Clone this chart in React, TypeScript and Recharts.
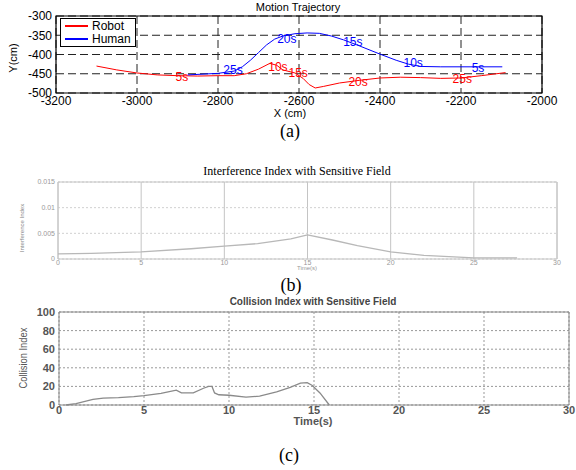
import React from "react";
import {
  LineChart,
  Line,
  XAxis,
  YAxis,
  CartesianGrid,
  ReferenceArea,
  ReferenceDot,
} from "recharts";

// (a) motion trajectory, X/Y in cm
const robotPath = [
  { x: -3100, y: -430 }, { x: -3050, y: -440 }, { x: -3000, y: -448 },
  { x: -2950, y: -453 }, { x: -2900, y: -455 }, { x: -2850, y: -456 },
  { x: -2800, y: -455 }, { x: -2760, y: -455 }, { x: -2730, y: -450 },
  { x: -2700, y: -438 }, { x: -2672, y: -423 }, { x: -2655, y: -428 },
  { x: -2640, y: -440 }, { x: -2610, y: -448 }, { x: -2590, y: -462 },
  { x: -2575, y: -478 }, { x: -2560, y: -487 }, { x: -2540, y: -483 },
  { x: -2500, y: -474 }, { x: -2450, y: -467 }, { x: -2400, y: -461 },
  { x: -2350, y: -459 }, { x: -2300, y: -460 }, { x: -2250, y: -462 },
  { x: -2200, y: -461 }, { x: -2150, y: -455 }, { x: -2090, y: -447 },
];
const humanPath = [
  { x: -2875, y: -453 }, { x: -2800, y: -449 }, { x: -2760, y: -443 },
  { x: -2740, y: -432 }, { x: -2720, y: -415 }, { x: -2700, y: -395 },
  { x: -2680, y: -375 }, { x: -2660, y: -360 }, { x: -2640, y: -352 },
  { x: -2610, y: -346 }, { x: -2580, y: -344 }, { x: -2550, y: -345 },
  { x: -2520, y: -352 }, { x: -2490, y: -362 }, { x: -2450, y: -378 },
  { x: -2400, y: -399 }, { x: -2360, y: -415 }, { x: -2330, y: -425 },
  { x: -2300, y: -431 }, { x: -2250, y: -432 }, { x: -2200, y: -432 },
  { x: -2150, y: -432 }, { x: -2098, y: -432 },
];
const robotMarks = [
  { x: -2889, y: -458, t: "5s" }, { x: -2652, y: -432, t: "10s" },
  { x: -2602, y: -448, t: "15s" }, { x: -2454, y: -471, t: "20s" },
  { x: -2197, y: -464, t: "25s" },
];
const humanMarks = [
  { x: -2158, y: -435, t: "5s" }, { x: -2318, y: -422, t: "10s" },
  { x: -2467, y: -367, t: "15s" }, { x: -2630, y: -360, t: "20s" },
  { x: -2763, y: -440, t: "25s" },
];
const xTicksA = [-3200, -3000, -2800, -2600, -2400, -2200, -2000];
const yTicksA = [-500, -450, -400, -350, -300];

// (b) interference index over time
const interference = [
  { t: 0, v: 0.001 }, { t: 2, v: 0.0011 }, { t: 5, v: 0.00137 },
  { t: 8, v: 0.002 }, { t: 10, v: 0.0025 }, { t: 12, v: 0.003 },
  { t: 14, v: 0.0039 }, { t: 15, v: 0.0047 }, { t: 16.5, v: 0.0037 },
  { t: 18, v: 0.0026 }, { t: 20, v: 0.0014 }, { t: 22, v: 0.0007 },
  { t: 25, v: 0.0002 }, { t: 27.6, v: 0.0002 },
];
const yTicksB = [0, 0.005, 0.01, 0.015];

// (c) collision index over time
const collision = [
  { t: 0.4, v: 0 }, { t: 1, v: 1.5 }, { t: 2, v: 6 }, { t: 2.6, v: 7.5 },
  { t: 3.5, v: 8 }, { t: 4.4, v: 9 }, { t: 5, v: 10 }, { t: 6, v: 12.5 },
  { t: 6.9, v: 16 }, { t: 7.2, v: 13 }, { t: 7.9, v: 13 }, { t: 8.5, v: 18 },
  { t: 8.8, v: 20 }, { t: 9, v: 20 }, { t: 9.15, v: 13 }, { t: 9.4, v: 11 },
  { t: 10, v: 10.5 }, { t: 11, v: 8.5 }, { t: 11.8, v: 9.5 }, { t: 12.8, v: 14 },
  { t: 13.6, v: 19 }, { t: 14.2, v: 23.5 }, { t: 14.6, v: 24 }, { t: 14.9, v: 21 },
  { t: 15.35, v: 13 }, { t: 15.9, v: 0 },
];
const yTicksC = [0, 20, 40, 60, 80, 100];
const timeTicks = [0, 5, 10, 15, 20, 25, 30];

const series = [
  { name: "Robot", color: "#ff0000" },
  { name: "Human", color: "#0000ff" },
];

const SANS = "'Liberation Sans', Arial, sans-serif";
const SERIF = "'Liberation Serif', 'Times New Roman', serif";

function Txt({ x, y, rotate, style, children }: any) {
  return (
    <div
      style={{
        position: "absolute",
        left: x,
        top: y,
        whiteSpace: "nowrap",
        lineHeight: 1,
        transform: `translate(-50%, -50%)${rotate ? " rotate(-90deg)" : ""}`,
        ...style,
      }}
    >
      {children}
    </div>
  );
}

export default function App() {
  return (
    <div
      style={{
        position: "absolute",
        left: 0,
        top: 0,
        width: 576,
        height: 470,
        background: "#fff",
        fontFamily: SANS,
        overflow: "hidden",
      }}
    >
      {/* (a) */}
      <div style={{ position: "absolute", left: 0, top: 0 }}>
        <LineChart width={576} height={140} margin={{ top: 16, right: 34, bottom: 27, left: 0 }}>
          <CartesianGrid stroke="#222" strokeDasharray="8 4" />
          <XAxis
            type="number"
            dataKey="x"
            domain={[-3200, -2000]}
            ticks={xTicksA}
            interval={0}
            height={20}
            tickSize={0}
            tickMargin={3}
            tickLine={false}
            axisLine={false}
            tick={{ fill: "#000", fontSize: 12, fontFamily: SANS }}
          />
          <YAxis
            type="number"
            domain={[-500, -300]}
            ticks={yTicksA}
            interval={0}
            width={56}
            tickSize={2}
            tickMargin={2}
            tickLine={false}
            axisLine={false}
            tick={{ fill: "#000", fontSize: 12, fontFamily: SANS }}
          />
          <ReferenceArea x1={-3200} x2={-2000} y1={-500} y2={-300} fill="none" stroke="#000" strokeWidth={1.2} />
          <Line data={robotPath} dataKey="y" stroke={series[0].color} strokeWidth={1} dot={false} isAnimationActive={false} />
          <Line data={humanPath} dataKey="y" stroke={series[1].color} strokeWidth={1} dot={false} isAnimationActive={false} />
          {robotMarks.map((m) => (
            <ReferenceDot key={"r" + m.t} x={m.x} y={m.y} r={0} label={{ value: m.t, position: "center", fill: series[0].color, fontSize: 12, fontFamily: SANS }} />
          ))}
          {humanMarks.map((m) => (
            <ReferenceDot key={"h" + m.t} x={m.x} y={m.y} r={0} label={{ value: m.t, position: "center", fill: series[1].color, fontSize: 12, fontFamily: SANS }} />
          ))}
        </LineChart>
      </div>
      {/* legend box */}
      <div
        style={{
          position: "absolute",
          left: 60,
          top: 18,
          width: 74,
          height: 27,
          border: "1px solid #000",
          background: "#fff",
          fontSize: 12,
          lineHeight: "12px",
        }}
      >
        {series.map((s, i) => (
          <div key={s.name} style={{ position: "absolute", left: 4, top: 1 + i * 13, height: 12, display: "flex", alignItems: "center" }}>
            <div style={{ width: 23, height: 1.5, background: s.color, marginRight: 4 }} />
            <span>{s.name}</span>
          </div>
        ))}
      </div>
      <Txt x={298} y={7} style={{ fontSize: 11 }}>Motion Trajectory</Txt>
      <Txt x={290} y={113} style={{ fontSize: 11 }}>X (cm)</Txt>
      <Txt x={13} y={58} rotate style={{ fontSize: 11 }}>Y(cm)</Txt>
      <Txt x={290} y={131} style={{ fontSize: 18, fontFamily: SERIF }}>(a)</Txt>

      {/* (b) */}
      <div style={{ position: "absolute", left: 0, top: 160 }}>
        <LineChart width={576} height={120} data={interference} margin={{ top: 22, right: 19, bottom: 9, left: 0 }}>
          <CartesianGrid horizontal={false} stroke="#c4c4c4" />
          <CartesianGrid vertical={false} stroke="#d0d0d0" strokeDasharray="2 2" />
          <XAxis
            type="number"
            dataKey="t"
            domain={[0, 30]}
            ticks={timeTicks}
            interval={0}
            height={12}
            tickSize={0}
            tickMargin={1}
            tickLine={false}
            axisLine={false}
            tick={{ fill: "#999", fontSize: 7, fontFamily: SANS }}
          />
          <YAxis
            type="number"
            domain={[0, 0.015]}
            ticks={yTicksB}
            interval={0}
            width={58}
            tickSize={1}
            tickMargin={2}
            tickLine={false}
            axisLine={false}
            tick={{ fill: "#999", fontSize: 7, fontFamily: SANS }}
          />
          <ReferenceArea x1={0} x2={30} y1={0} y2={0.015} fill="none" stroke="#c4c4c4" />
          <Line dataKey="v" stroke="#b8b8b8" strokeWidth={1.3} dot={false} isAnimationActive={false} />
        </LineChart>
      </div>
      <Txt x={297} y={171} style={{ fontSize: 12, fontFamily: SERIF }}>Interference Index with Sensitive Field</Txt>
      <Txt x={307} y={268} style={{ fontSize: 6, color: "#999" }}>Time(s)</Txt>
      <Txt x={22} y={228} rotate style={{ fontSize: 6, color: "#888" }}>Interference Index</Txt>
      <Txt x={291} y={285} style={{ fontSize: 18, fontFamily: SERIF }}>(b)</Txt>

      {/* (c) */}
      <div style={{ position: "absolute", left: 0, top: 295 }}>
        <LineChart width={576} height={140} data={collision} margin={{ top: 17, right: 7, bottom: 12, left: 0 }}>
          <CartesianGrid stroke="#999" strokeDasharray="2 2" />
          <XAxis
            type="number"
            dataKey="t"
            domain={[0, 30]}
            ticks={timeTicks}
            interval={0}
            height={18}
            tickSize={0}
            tickMargin={1}
            tickLine={false}
            axisLine={false}
            tick={{ fill: "#555", fontSize: 11, fontWeight: "bold", fontFamily: SANS }}
          />
          <YAxis
            type="number"
            domain={[0, 100]}
            ticks={yTicksC}
            interval={0}
            width={59}
            tickSize={1}
            tickMargin={3}
            tickLine={false}
            axisLine={false}
            tick={{ fill: "#555", fontSize: 11, fontWeight: "bold", fontFamily: SANS }}
          />
          <ReferenceArea x1={0} x2={30} y1={0} y2={100} fill="none" stroke="#888" />
          <Line dataKey="v" stroke="#8a8a8a" strokeWidth={1.3} dot={false} isAnimationActive={false} />
        </LineChart>
      </div>
      <Txt x={313} y={302} style={{ fontSize: 10, fontWeight: "bold", color: "#444" }}>Collision Index with Sensitive Field</Txt>
      <Txt x={313} y={421} style={{ fontSize: 11, fontWeight: "bold", color: "#555" }}>Time(s)</Txt>
      <Txt x={23} y={358} rotate style={{ fontSize: 11, color: "#555", transform: "translate(-50%, -50%) rotate(-90deg) scaleX(0.85)" }}>Collision Index</Txt>
      <Txt x={289} y={455} style={{ fontSize: 18, fontFamily: SERIF }}>(c)</Txt>
    </div>
  );
}
